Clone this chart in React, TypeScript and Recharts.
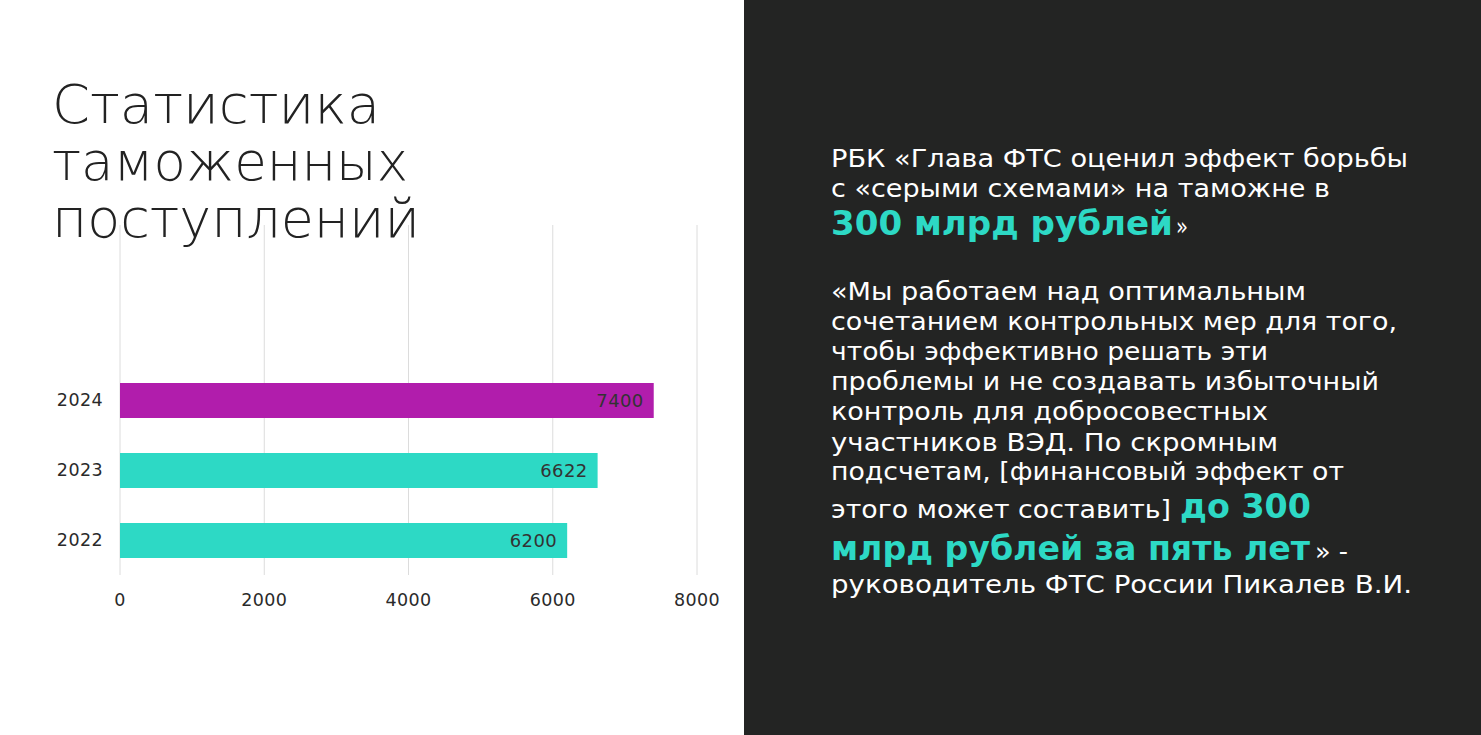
import React from "react";
import { Bar, BarChart, CartesianGrid, Cell, LabelList, XAxis, YAxis } from "recharts";

// two empty rows sit above the years, as in the slide
const years = ["", "", "2024", "2023", "2022"];
const revenue = [null, null, 7400, 6622, 6200];
const barColors = ["#2dd9c5", "#2dd9c5", "#b11dac", "#2dd9c5", "#2dd9c5"];
const xTicks = [0, 2000, 4000, 6000, 8000];

const data = years.map((year, i) => ({ year, value: revenue[i] }));

const TEAL = "#2dd9c5";
const FONT = "'DejaVu Sans', sans-serif";

// one line of slide text, stretched to the width it has in the original
function Line({ x, y, w, children, accent }: { x: number; y: number; w: number; children: string; accent?: boolean }) {
  return (
    <text
      x={x}
      y={y}
      textLength={w}
      lengthAdjust="spacingAndGlyphs"
      fill={accent ? TEAL : "#fff"}
      fontSize={accent ? 33 : 24}
      fontWeight={accent ? 700 : 400}
    >
      {children}
    </text>
  );
}

export default function App() {
  const axisTick = { fill: "#2a2a2a", fontSize: 17.5, fontFamily: FONT, letterSpacing: 0.4 };
  return (
    <div style={{ position: "absolute", left: 0, top: 0, width: 1481, height: 735, background: "#fff", overflow: "hidden", fontFamily: FONT }}>
      <div style={{ position: "absolute", left: 0, top: 0 }}>
        <BarChart layout="vertical" width={744} height={735} data={data} margin={{ top: 225, right: 47, bottom: 130, left: 0 }} barSize={35}>
          <CartesianGrid horizontal={false} stroke="#dcdcdc" />
          <XAxis type="number" domain={[0, 8000]} ticks={xTicks} axisLine={false} tickLine={false} tickMargin={13} height={30} tick={axisTick} />
          <YAxis type="category" dataKey="year" width={120} axisLine={false} tickLine={false} tickMargin={11} tick={axisTick} />
          <Bar dataKey="value" isAnimationActive={false}>
            {data.map((d, i) => (
              <Cell key={i} fill={barColors[i]} />
            ))}
            <LabelList dataKey="value" position="insideRight" offset={10} fill="#333" fontSize={18} fontFamily={FONT} letterSpacing={0.4} />
          </Bar>
        </BarChart>
      </div>

      <svg width={1481} height={735} style={{ position: "absolute", left: 0, top: 0, pointerEvents: "none" }}>
        <g fontFamily={FONT} fontWeight={200} fontSize={54} fill="#222">
          <text x={52} y={123} textLength={328} lengthAdjust="spacingAndGlyphs">Статистика</text>
          <text x={52} y={180} textLength={356} lengthAdjust="spacingAndGlyphs">таможенных</text>
          <text x={52} y={237} textLength={368} lengthAdjust="spacingAndGlyphs">поступлений</text>
        </g>
        <rect x={744} y={0} width={737} height={735} fill="#232423" />
        <g fontFamily={FONT}>
          <Line x={831} y={167} w={577}>РБК «Глава ФТС оценил эффект борьбы</Line>
          <Line x={831} y={197} w={499}>с «серыми схемами» на таможне в</Line>
          <Line x={831} y={235} w={342} accent>300 млрд рублей</Line>
          <Line x={1176} y={235} w={12}>»</Line>

          <Line x={831} y={300} w={475}>«Мы работаем над оптимальным</Line>
          <Line x={831} y={330} w={566}>сочетанием контрольных мер для того,</Line>
          <Line x={831} y={360} w={437}>чтобы эффективно решать эти</Line>
          <Line x={831} y={390} w={548}>проблемы и не создавать избыточный</Line>
          <Line x={831} y={420} w={437}>контроль для добросовестных</Line>
          <Line x={831} y={451} w={447}>участников ВЭД. По скромным</Line>
          <Line x={831} y={480} w={513}>подсчетам, [финансовый эффект от</Line>
          <Line x={831} y={518} w={340}>этого может составить]</Line>
          <Line x={1180} y={518} w={131} accent>до 300</Line>
          <Line x={831} y={560} w={479} accent>млрд рублей за пять лет</Line>
          <Line x={1315} y={560} w={33}>» -</Line>
          <Line x={831} y={593} w={581}>руководитель ФТС России Пикалев В.И.</Line>
        </g>
      </svg>
    </div>
  );
}
